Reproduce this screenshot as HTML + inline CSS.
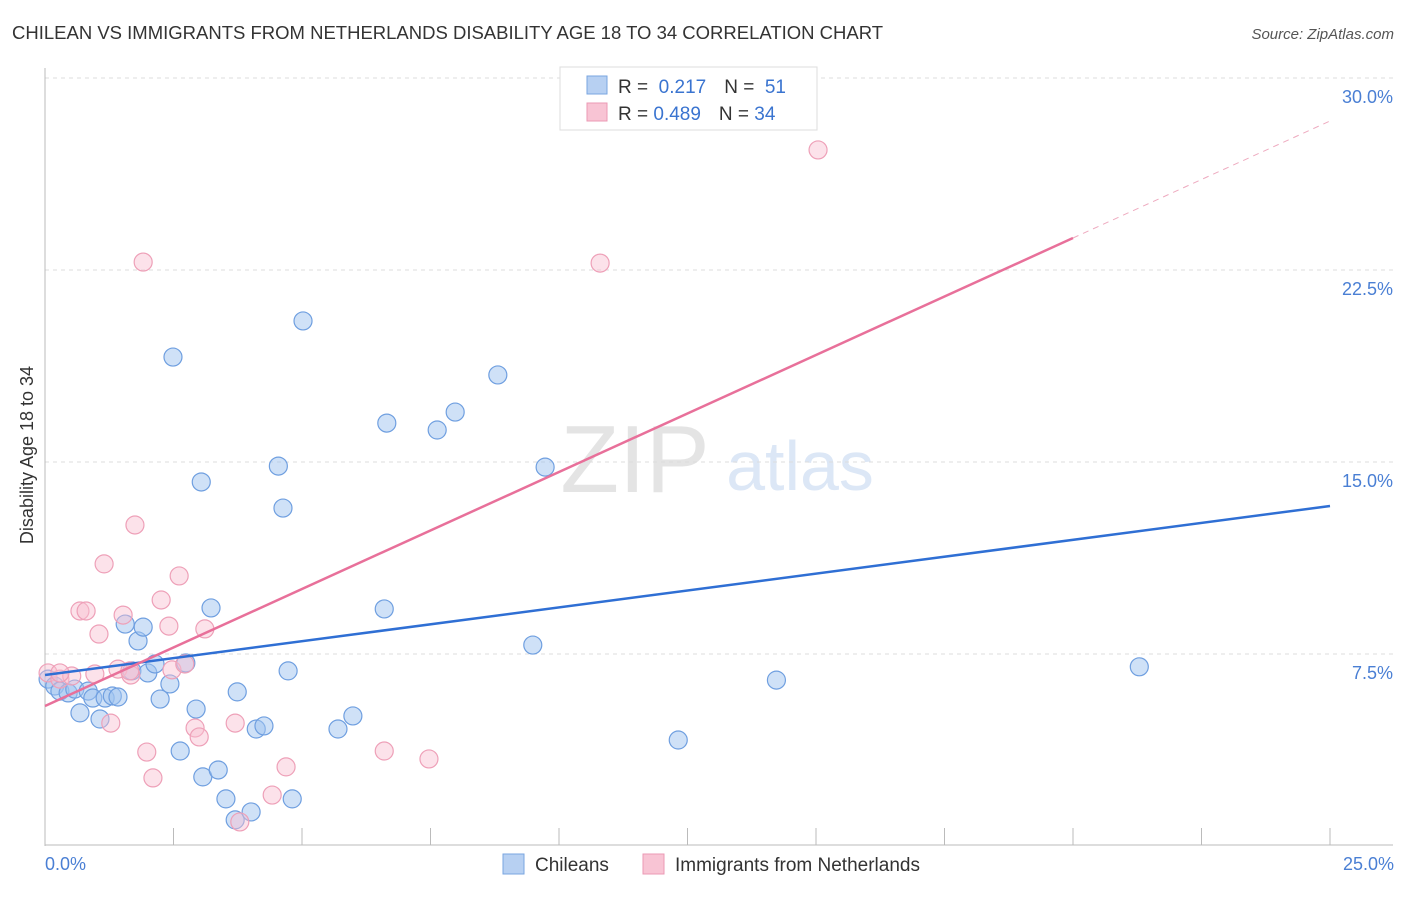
<!DOCTYPE html>
<html><head><meta charset="utf-8"><style>
body{margin:0;background:#fff;font-family:"Liberation Sans",sans-serif;}
svg text{font-family:"Liberation Sans",sans-serif;}
</style></head><body>
<svg id="chart" width="1406" height="892">
<text x="12" y="39" font-size="18.5" fill="#333">CHILEAN VS IMMIGRANTS FROM NETHERLANDS DISABILITY AGE 18 TO 34 CORRELATION CHART</text>
<text x="1394" y="39" font-size="15" fill="#555" text-anchor="end" font-style="italic">Source: ZipAtlas.com</text>
<text x="635" y="492" font-size="96" fill="#e4e4e4" text-anchor="middle" font-family="Liberation Serif">ZIP</text>
<text x="800" y="490" font-size="70" fill="#dce7f6" text-anchor="middle">atlas</text>
<g id="grid"></g>
<g id="axes"></g>
<g id="pts"></g>
<g id="lines"></g>
<text transform="translate(33,455) rotate(-90)" font-size="18" fill="#333" text-anchor="middle">Disability Age 18 to 34</text>
<text x="45" y="870" font-size="18" fill="#4a7fd4">0.0%</text>
<text x="1394" y="870" font-size="18" fill="#4a7fd4" text-anchor="end">25.0%</text>
<g>
<rect x="560" y="67" width="257" height="63" fill="#fff" stroke="#ddd"/>
<rect x="587" y="76" width="20" height="18" fill="#b7d0f2" stroke="#7aa6e0"/>
<rect x="587" y="103" width="20" height="18" fill="#f8c4d4" stroke="#eb9ab4"/>
<text x="618" y="93" font-size="19" fill="#333">R = <tspan fill="#3a74d0">&#160;0.217</tspan><tspan dx="18">N = </tspan><tspan fill="#3a74d0">&#160;51</tspan></text>
<text x="618" y="120" font-size="19" fill="#333">R = <tspan fill="#3a74d0">0.489</tspan><tspan dx="18">N = </tspan><tspan fill="#3a74d0">34</tspan></text>
</g>
<g>
<rect x="503" y="854" width="21" height="20" fill="#b7d0f2" stroke="#7aa6e0"/>
<text x="535" y="871" font-size="19" fill="#333">Chileans</text>
<rect x="643" y="854" width="21" height="20" fill="#f8c4d4" stroke="#eb9ab4"/>
<text x="675" y="871" font-size="19" fill="#333">Immigrants from Netherlands</text>
</g>
</svg>
<script>
const yTicks=[7.5,15,22.5,30];
const yTickLabels=["7.5%","15.0%","22.5%","30.0%"];
const xTicks=[2.5,5,7.5,10,12.5,15,17.5,20,22.5,25];
const chileanX=[0.06,0.19,0.29,0.45,0.58,0.68,0.84,0.93,1.07,1.17,1.31,1.42,1.56,1.69,1.81,1.91,2.0,2.14,2.24,2.43,2.49,2.63,2.74,2.94,3.04,3.07,3.23,3.37,3.52,3.70,3.74,4.01,4.11,4.26,4.54,4.63,4.73,4.81,5.02,5.70,5.99,6.60,6.65,7.63,7.98,8.81,9.49,9.73,12.32,14.23,21.29];
const chileanY=[6.52,6.25,6.05,5.98,6.13,5.20,6.05,5.78,4.96,5.78,5.86,5.82,8.67,6.84,8.01,8.55,6.76,7.11,5.74,6.33,19.10,3.71,7.15,5.35,14.22,2.70,9.30,2.97,1.84,1.02,6.02,1.33,4.57,4.69,14.84,13.20,6.84,1.84,20.51,4.57,5.08,9.26,16.52,16.25,16.95,18.40,7.85,14.80,4.14,6.48,7.00];
const dutchX=[0.06,0.29,0.52,0.68,0.80,0.97,1.05,1.15,1.28,1.42,1.52,1.67,1.75,1.91,1.98,2.10,2.26,2.41,2.47,2.61,2.72,2.92,3.00,3.11,3.70,3.79,4.42,4.69,6.60,7.47,10.80,15.04,0.29,1.65];
const dutchY=[6.76,6.52,6.64,9.18,9.18,6.72,8.28,11.02,4.80,6.91,9.02,6.68,12.54,22.81,3.67,2.66,9.61,8.59,6.88,10.55,7.11,4.61,4.26,8.48,4.80,0.94,1.99,3.09,3.71,3.40,22.77,27.19,6.76,6.84];
const blueFit=[6.68,13.28];
const pinkFit=[5.47,28.32];
const NS="http://www.w3.org/2000/svg";
const X0=45,X1=1330,Y0=846;
function sx(v){return X0+v/25*(X1-X0);}
function sy(v){return Y0-v/7.5*192;}
function mk(tag,attrs,parent){const e=document.createElementNS(NS,tag);for(const k in attrs)e.setAttribute(k,attrs[k]);document.getElementById(parent).appendChild(e);return e;}
yTicks.forEach((t,i)=>{
 const l=mk('line',{x1:45,x2:1393,y1:sy(t),y2:sy(t),stroke:'#ddd','stroke-dasharray':'4,4'},'grid');
 
 
 const tx=mk('text',{x:1393,y:sy(t)+25,'font-size':18,fill:'#4a7fd4','text-anchor':'end'},'grid');
 tx.textContent=yTickLabels[i];
 
 
});
const ax=mk('line',{x1:45,x2:45,y1:68,y2:846,stroke:'#bbb'},'axes');


const bx=mk('line',{x1:45,x2:1393,y1:845,y2:845,stroke:'#bbb'},'axes');


xTicks.forEach(t=>{
 const l=mk('line',{x1:sx(t),x2:sx(t),y1:828,y2:845,stroke:'#bbb'},'axes');
 
 
});
chileanX.forEach((x,i)=>{
 const c=mk('circle',{cx:sx(x),cy:sy(chileanY[i]),r:9,fill:'rgba(160,195,240,0.5)',stroke:'#6f9fe0','stroke-width':1.2},'pts');
 
 
});
dutchX.forEach((x,i)=>{
 const c=mk('circle',{cx:sx(x),cy:sy(dutchY[i]),r:9,fill:'rgba(248,190,208,0.45)',stroke:'#eea0b8','stroke-width':1.2},'pts');
 
 
});
const bl=mk('line',{x1:sx(0),y1:sy(blueFit[0]),x2:sx(25),y2:sy(blueFit[1]),stroke:'#2f6fd4','stroke-width':2.5},'lines');


const pm=pinkFit[0]+(pinkFit[1]-pinkFit[0])*0.8;
const pl=mk('line',{x1:sx(0),y1:sy(pinkFit[0]),x2:sx(20),y2:sy(pm),stroke:'#e8709a','stroke-width':2.5},'lines');


const pd=mk('line',{x1:sx(20),y1:sy(pm),x2:sx(25),y2:sy(pinkFit[1]),stroke:'#eeaabf','stroke-width':1,'stroke-dasharray':'6,5'},'lines');


</script>
</body></html>
